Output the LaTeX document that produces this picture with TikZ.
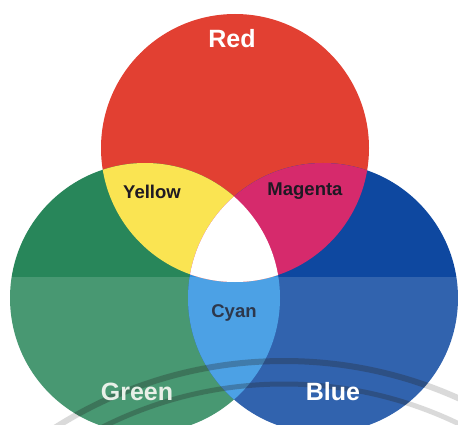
\documentclass[tikz,border=0pt]{standalone}
\usepackage{fontspec}
\setmainfont{Liberation Sans}
\definecolor{cRed}{RGB}{226,64,50}
\definecolor{cGreen}{RGB}{40,134,90}
\definecolor{cBlue}{RGB}{14,72,160}
\definecolor{cYellow}{RGB}{250,228,82}
\definecolor{cMagenta}{RGB}{214,42,108}
\definecolor{cCyan}{RGB}{45,145,225}
\definecolor{wmGray}{RGB}{212,212,212}
\definecolor{lblDark}{RGB}{30,25,35}
\definecolor{lblCyan}{RGB}{45,55,75}
\tikzset{
  biglbl/.style={text=white, font=\bfseries\fontsize{25}{28}\selectfont, inner sep=0pt},
  smalllbl/.style={text=lblDark, font=\bfseries\fontsize{18.5}{21}\selectfont, inner sep=0pt},
  wmarc/.style={line width=6pt}
}
\begin{document}
\begin{tikzpicture}[x=1pt,y=-1pt]
\useasboundingbox (0,0) rectangle (458,425);
\clip (0,0) rectangle (458,425);
\coordinate (R) at (235,148);
\coordinate (G) at (145,298);
\coordinate (B) at (323,298);
\coordinate (W) at (284,787);
% watermark arcs (outside the circles)
\draw[wmarc, wmGray] (W) circle[radius=426pt];
\draw[wmarc, wmGray, line width=5pt] (W) circle[radius=403pt];
% primary circles
\fill[cRed] (R) circle[radius=134pt];
\fill[cGreen] (G) circle[radius=135pt];
\fill[cBlue] (B) circle[radius=135pt];
% cyan = green and blue
\begin{scope}
  \clip (G) circle[radius=135pt];
  \fill[cCyan] (B) circle[radius=135pt];
\end{scope}
% yellow, magenta, white
\begin{scope}
  \clip (R) circle[radius=134pt];
  \fill[cYellow] (G) circle[radius=135pt];
  \fill[cMagenta] (B) circle[radius=135pt];
  \clip (G) circle[radius=135pt];
  \fill[white] (B) circle[radius=135pt];
\end{scope}
% watermark arcs over the circles
\begin{scope}
  \clip (R) circle[radius=134pt] (G) circle[radius=135pt] (B) circle[radius=135pt];
  \draw[wmarc, black, opacity=0.3] (W) circle[radius=426pt];
  \draw[wmarc, black, opacity=0.3, line width=5pt] (W) circle[radius=403pt];
\end{scope}
% lighter lower band (scan)
\fill[white, opacity=0.15] (0,277) rectangle (458,425);
% labels
\node[biglbl] (tRed) at (232,39) {Red};
\node[biglbl, text={rgb,255:red,232;green,240;blue,232}] (tGreen) at (137,392) {Green};
\node[biglbl] (tBlue) at (333,392) {Blue};
\node[smalllbl] (tYellow) at (152,192) {Yellow};
\node[smalllbl] (tMagenta) at (305,191) {Magenta};
\node[smalllbl, text=lblCyan] (tCyan) at (234,313) {Cyan};
\end{tikzpicture}
\end{document}
